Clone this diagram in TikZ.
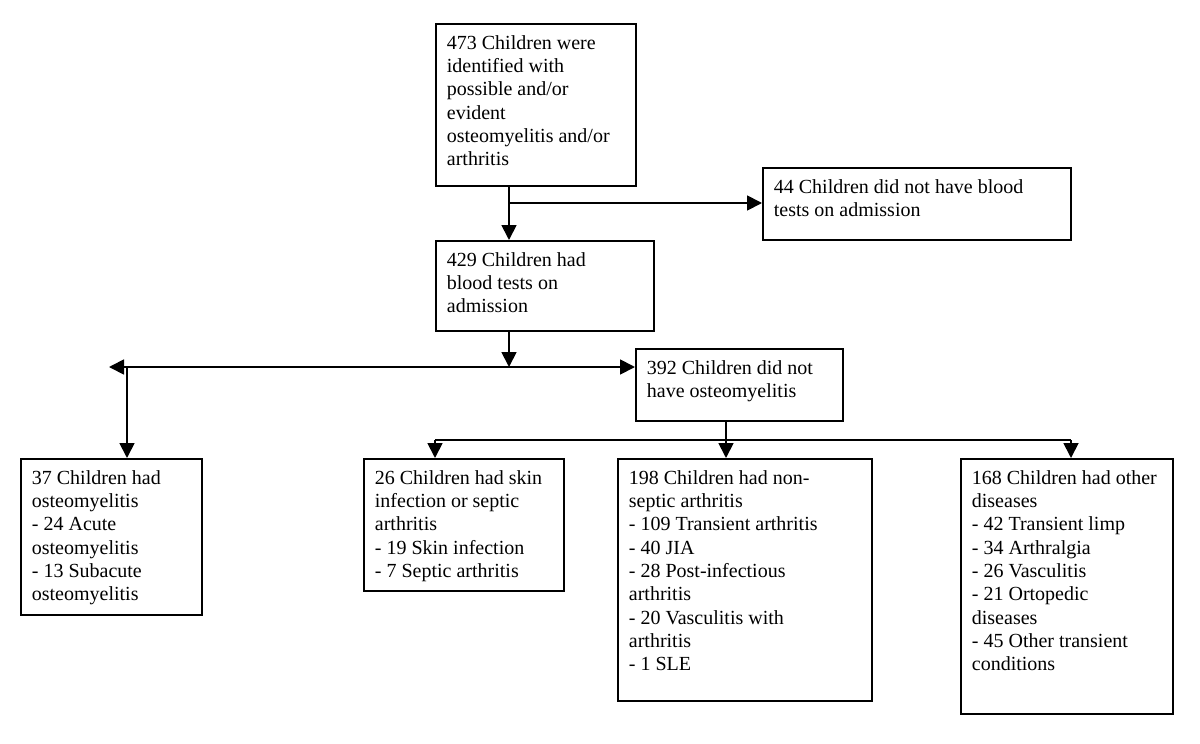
\documentclass[tikz,border=0pt]{standalone}
\usepackage{fontspec}
\setmainfont{Liberation Serif}
\usepackage{tikz}
\usetikzlibrary{arrows.meta,positioning,calc}
\tikzstyle{block}=[draw,line width=1.8pt,anchor=north west,inner xsep=11pt,inner ysep=9pt,font=\fontsize{20}{23.3}\selectfont]
\tikzstyle{conn}=[line width=1.8pt,-{Triangle[length=15pt,width=15pt]}]
\newcommand{\boxtext}[3]{\parbox[t][#2][t]{#1}{\raggedright\strut#3}}

\begin{document}
\begin{tikzpicture}[x=1pt,y=-1pt]
\useasboundingbox (0,0) rectangle (1200,744);
\node[block] (identified) at (435,23) {\boxtext{178pt}{144pt}{473 Children were\\identified with\\possible and/or\\evident\\osteomyelitis and/or\\arthritis}};
\node[block] (noblood) at (762,167) {\boxtext{286pt}{54pt}{44 Children did not have blood\\tests on admission}};
\node[block] (blood) at (435,240) {\boxtext{196pt}{72pt}{429 Children had\\blood tests on\\admission}};
\node[block] (nonosteo) at (635,348) {\boxtext{185pt}{54pt}{392 Children did not\\have osteomyelitis}};
\node[block] (osteo) at (20,458) {\boxtext{159pt}{138pt}{37 Children had\\osteomyelitis\\- 24 Acute\\osteomyelitis\\- 13 Subacute\\osteomyelitis}};
\node[block] (skin) at (363,458) {\boxtext{178pt}{114pt}{26 Children had skin\\infection or septic\\arthritis\\- 19 Skin infection\\- 7 Septic arthritis}};
\node[block] (nonseptic) at (617,458) {\boxtext{232pt}{224pt}{198 Children had non-\\septic arthritis\\- 109 Transient arthritis\\- 40 JIA\\- 28 Post-infectious\\arthritis\\- 20 Vasculitis with\\arthritis\\- 1 SLE}};
\node[block] (other) at (960,458) {\boxtext{190pt}{237pt}{168 Children had other\\diseases\\- 42 Transient limp\\- 34 Arthralgia\\- 26 Vasculitis\\- 21 Ortopedic\\diseases\\- 45 Other transient\\conditions}};

\coordinate (split1) at (509,203);
\coordinate (split2) at (509,367);
\coordinate (leftend) at (109,367);
\coordinate (osteoturn) at (127,367);
\coordinate (split3) at (726,440);
\coordinate (b1) at (435,440);
\coordinate (b3) at (1071,440);

\draw[conn] (identified.south -| split1) -- (blood.north -| split1);
\draw[conn] (split1) -- (noblood.west |- split1);
\draw[conn] (blood.south -| split2) -- (split2);
\draw[conn] (split2) -- (leftend);
\draw[conn] (split2) -- (nonosteo.west |- split2);
\draw[conn] (osteoturn) -- (osteo.north -| osteoturn);
\draw[line width=1.8pt] (nonosteo.south -| split3) -- (split3);
\draw[line width=1.8pt] (b1) -- (b3);
\foreach \c/\n in {b1/skin,split3/nonseptic,b3/other}
  \draw[conn] (\c) -- (\n.north -| \c);
\end{tikzpicture}
\end{document}
